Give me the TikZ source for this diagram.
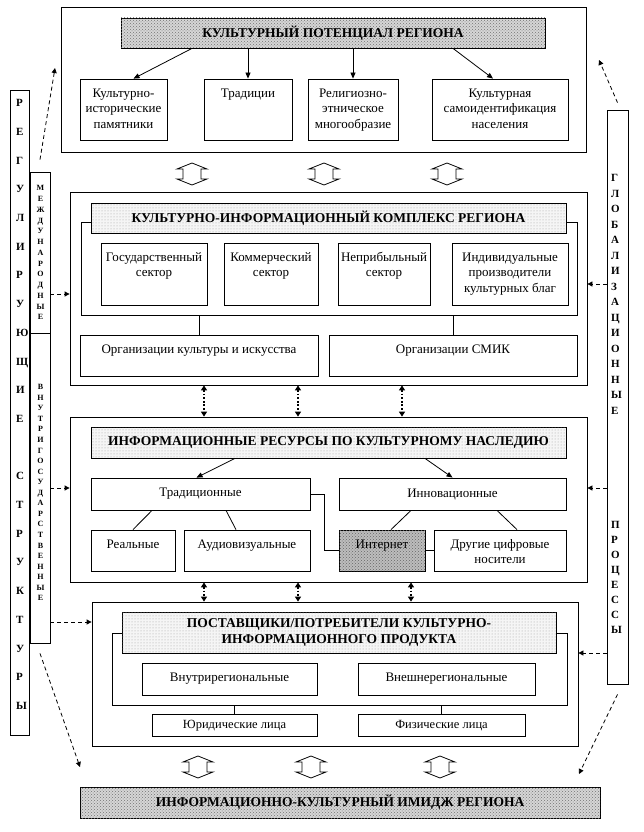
\documentclass[tikz,border=0pt]{standalone}
\usepackage{fontspec}
\setmainfont{Liberation Serif}
\usetikzlibrary{arrows.meta,fit,patterns,calc}

\newcommand\bx[6][]{\node[bx,#1,fit={(#3,#4)(#5,#6)}] (#2) {};}
\newcommand\cbx[7][]{\node[bx,#1,fit={(#3,#4)(#5,#6)}] (#2) {};\node[ct] at (#2.center) {#7};}
\newcommand\hbx[7][]{\node[bx,#1,fit={(#3,#4)(#5,#6)}] (#2) {};\node[hd] at (#2.center) {#7};}
\newcommand\tp[2]{\node[tt] at ([yshift=-8.5pt]#1.north) {\rule{0pt}{10pt}#2};}
\newcommand\hollowar[2]{\draw[hol] (#1,#2) +(0,-11) -- +(15,-5) -- +(9,-5) -- +(9,5) -- +(15,5) -- +(0,11) -- +(-15,5) -- +(-9,5) -- +(-9,-5) -- +(-15,-5) -- cycle;}

\begin{document}
\begin{tikzpicture}[x=1pt,y=-1pt,
  bx/.style={draw, line width=0.8pt, inner sep=0pt, fill=white},
  ct/.style={font=\fontsize{13}{15.5}\selectfont, align=center, inner sep=0pt, anchor=center},
  tt/.style={font=\fontsize{13}{15.5}\selectfont, align=center, anchor=north, inner sep=0pt},
  hd/.style={font=\bfseries\fontsize{13.5}{16.5}\selectfont, align=center, inner sep=0pt, anchor=center},
  hdA/.style={fill=gray!32, postaction={pattern=crosshatch dots, pattern color=black!55}},
  hdB/.style={fill=gray!8, postaction={pattern=dots, pattern color=gray!75}},
  net/.style={fill=gray!52, postaction={pattern=crosshatch dots, pattern color=black!60}},
  arr/.style={line width=0.8pt, -{Triangle[length=6pt,width=5pt]}},
  ln/.style={line width=0.8pt},
  dar/.style={line width=0.8pt, dash pattern=on 4pt off 3pt, -{Triangle[length=5pt,width=5pt]}},
  dotar/.style={line width=1.8pt, dash pattern=on 1.8pt off 1.8pt, {Triangle[length=5pt,width=6pt]}-{Triangle[length=5pt,width=6pt]}},
  hol/.style={draw, line width=0.8pt, fill=white},
  vl/.style={font=\bfseries\fontsize{11}{11}\selectfont, inner sep=0pt, text height=7.5pt, text depth=0pt, anchor=west},
  vs/.style={font=\bfseries\fontsize{8}{8}\selectfont, inner sep=0pt, text height=5.5pt, text depth=0pt},
  vr/.style={font=\bfseries\fontsize{11}{11}\selectfont, inner sep=0pt, text height=7.5pt, text depth=0pt, anchor=west}
]
\fill[white] (0,0) rectangle (643,832);
\useasboundingbox (0,0) rectangle (643,832);

% ---------- top block ----------
\bx{T}{61}{7}{586}{152}
\hbx[hdA]{hT}{121}{18}{545}{48}{КУЛЬТУРНЫЙ ПОТЕНЦИАЛ РЕГИОНА}
\bx{b1}{80}{79}{167}{140}
\bx{b2}{204}{79}{292}{140}
\bx{b3}{308}{79}{398}{140}
\bx{b4}{432}{79}{568}{140}
\tp{b1}{Культурно-\\исторические\\памятники}
\tp{b2}{Традиции}
\tp{b3}{Религиозно-\\этническое\\многообразие}
\tp{b4}{Культурная\\самоидентификация\\населения}
\draw[arr] ([xshift=-141pt]hT.south) -- ([xshift=10pt]b1.north);
\draw[arr] (hT.south -| b2.north) -- (b2.north);
\draw[arr] (hT.south -| b3.north) -- (b3.north);
\draw[arr] ([xshift=120pt]hT.south) -- ([xshift=-7pt]b4.north);

\hollowar{192}{174}
\hollowar{324}{174}
\hollowar{447}{174}

% ---------- complex ----------
\bx{K}{70}{192}{587}{385}
\bx{fK}{81}{222}{577}{315}
\hbx[hdB]{hK}{91}{203}{566}{233}{КУЛЬТУРНО-ИНФОРМАЦИОННЫЙ КОМПЛЕКС РЕГИОНА}
\bx{s1}{101}{243}{207}{305}
\bx{s2}{224}{243}{318}{305}
\bx{s3}{338}{243}{430}{305}
\bx{s4}{452}{243}{568}{305}
\tp{s1}{Государственный\\сектор}
\tp{s2}{Коммерческий\\сектор}
\tp{s3}{Неприбыльный\\сектор}
\tp{s4}{Индивидуальные\\производители\\культурных благ}
\bx{o1}{80}{335}{318}{376}
\bx{o2}{329}{335}{577}{376}
\tp{o1}{Организации культуры и искусства}
\tp{o2}{Организации СМИК}
\draw[ln] (fK.south -| o1.north) -- (o1.north);
\draw[ln] (fK.south -| o2.north) -- (o2.north);

% ---------- resources ----------
\bx{R}{70}{417}{587}{582}
\hbx[hdB]{hR}{91}{427}{566}{458}{ИНФОРМАЦИОННЫЕ РЕСУРСЫ ПО КУЛЬТУРНОМУ НАСЛЕДИЮ}
\cbx{trad}{91}{478}{310}{510}{Традиционные}
\cbx{inn}{339}{478}{566}{510}{Инновационные}
\bx{r1}{91}{530}{175}{571}
\bx{r2}{184}{530}{310}{571}
\bx[net]{r3}{339}{530}{425}{571}
\bx{r4}{434}{530}{566}{571}
\tp{r1}{Реальные}
\tp{r2}{Аудиовизуальные}
\tp{r3}{Интернет}
\tp{r4}{Другие цифровые\\носители}
\draw[arr] ([xshift=-93.5pt]hR.south) -- ([xshift=-4pt]trad.north);
\draw[arr] ([xshift=96.5pt]hR.south) -- (inn.north);
\draw[ln] ([xshift=-48.5pt]trad.south) -- (r1.north);
\draw[ln] ([xshift=25.5pt]trad.south) -- ([xshift=-11pt]r2.north);
\draw[ln] ([xshift=-41.5pt]inn.south) -- ([xshift=9pt]r3.north);
\draw[ln] ([xshift=44.5pt]inn.south) -- ([xshift=17pt]r4.north);
\draw[ln] (trad.east) -- ++(14,0) |- (r3.west);
\draw[ln] (r3.east) -- (r4.west);

% ---------- providers ----------
\bx{P}{92}{602}{578}{746}
\bx{fP}{112}{633}{567}{705}
\hbx[hdB]{hP}{122}{612}{556}{653}{ПОСТАВЩИКИ/ПОТРЕБИТЕЛИ КУЛЬТУРНО-\\ИНФОРМАЦИОННОГО ПРОДУКТА}
\cbx{p1}{142}{663}{317}{695}{Внутрирегиональные}
\cbx{p2}{358}{663}{535}{695}{Внешнерегиональные}
\bx{j1}{152}{714}{317}{736}
\bx{j2}{358}{714}{525}{736}
\node[ct, font=\fontsize{12.5}{15}\selectfont] at ([yshift=-1pt]j1.center) {Юридические лица};
\node[ct, font=\fontsize{12.5}{15}\selectfont] at ([yshift=-1pt]j2.center) {Физические лица};
\draw[ln] (fP.south -| j1.north) -- (j1.north);
\draw[ln] (fP.south -| j2.north) -- (j2.north);

% dotted double arrows
\coordinate (xa) at (204,0);
\coordinate (xb) at (298,0);
\coordinate (xc) at (402,0);
\coordinate (xd) at (411,0);
\draw[dotar] (K.south -| xa) -- (R.north -| xa);
\draw[dotar] (K.south -| xb) -- (R.north -| xb);
\draw[dotar] (K.south -| xc) -- (R.north -| xc);
\draw[dotar] (R.south -| xa) -- (P.north -| xa);
\draw[dotar] (R.south -| xb) -- (P.north -| xb);
\draw[dotar] (R.south -| xd) -- (P.north -| xd);

\hollowar{198}{767}
\hollowar{311}{767}
\hollowar{440}{767}

% ---------- image ----------
\hbx[hdA]{I}{80}{787}{600}{818}{ИНФОРМАЦИОННО-КУЛЬТУРНЫЙ ИМИДЖ РЕГИОНА}

% ---------- left strips ----------
\bx{L}{10}{90}{29}{735}
\bx{M}{30}{172}{50}{333}
\bx{V}{30}{333}{50}{643}
\foreach \c [count=\i from 0] in {Р,Е,Г,У,Л,И,Р,У,Ю,Щ,И,Е}
  \node[vl] at (16,{103+28.7*\i}) {\c};
\foreach \c [count=\i from 13] in {С,Т,Р,У,К,Т,У,Р,Ы}
  \node[vl] at (16,{103+28.7*\i}) {\c};
\foreach \c [count=\i from 0] in {М,Е,Ж,Д,У,Н,А,Р,О,Д,Н,Ы,Е}
  \node[vs] at (40.5,{188+10.75*\i}) {\c};
\foreach \c [count=\i from 0] in {В,Н,У,Т,Р,И,Г,О,С,У,Д,А,Р,С,Т,В,Е,Н,Н,Ы,Е}
  \node[vs] at (40.5,{387+10.55*\i}) {\c};

% ---------- right strip ----------
\bx{G}{607}{110}{628}{684}
\foreach \c [count=\i from 0] in {Г,Л,О,Б,А,Л,И,З,А,Ц,И,О,Н,Н,Ы,Е}
  \node[vr] at (611,{178+15.5*\i}) {\c};
\foreach \c [count=\i from 0] in {П,Р,О,Ц,Е,С,С,Ы}
  \node[vr] at (611,{525+15*\i}) {\c};

% ---------- dashed connectors ----------
\coordinate (yK) at (0,294);
\coordinate (yR) at (0,488);
\coordinate (yP) at (0,622);
\coordinate (yK2) at (0,284);
\coordinate (yP2) at (0,653);
\coordinate (tl) at (55,68);
\coordinate (bl) at (80,767);
\coordinate (tr) at (599,60);
\coordinate (br) at (579,774);
\draw[dar] (M.east |- yK) -- (K.west |- yK);
\draw[dar] (V.east |- yR) -- (R.west |- yR);
\draw[dar] (V.east |- yP) -- (P.west |- yP);
\draw[dar] (G.west |- yK2) -- (K.east |- yK2);
\draw[dar] (G.west |- yR) -- (R.east |- yR);
\draw[dar] (G.west |- yP2) -- (P.east |- yP2);
\draw[dar] ([yshift=12pt]M.north) -- (tl);
\draw[dar] ([yshift=-10pt]V.south) -- (bl);
\draw[dar] ([yshift=7pt]G.north) -- (tr);
\draw[dar] ([yshift=-10pt]G.south) -- (br);
\end{tikzpicture}
\end{document}
